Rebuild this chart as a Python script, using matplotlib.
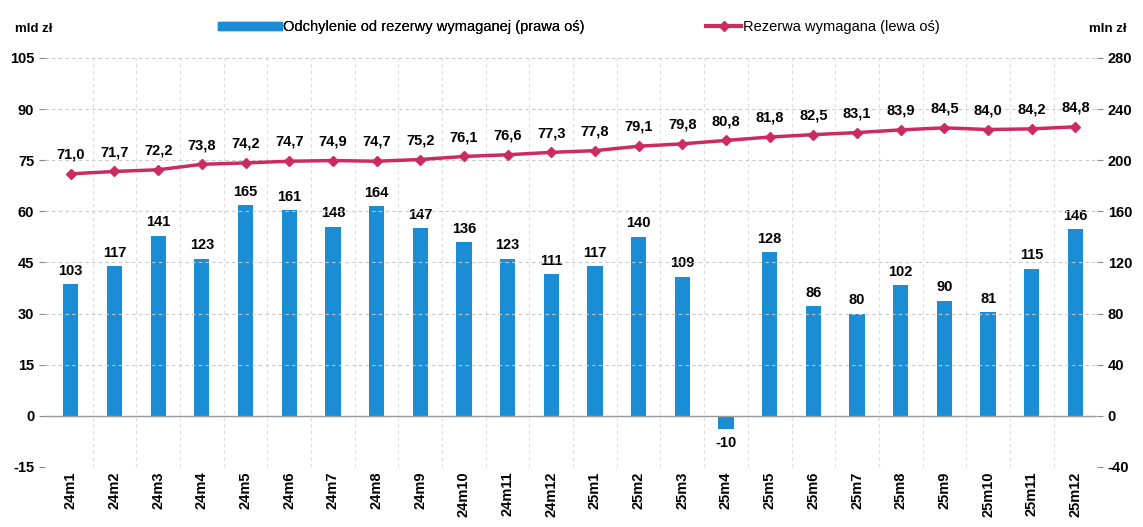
import numpy as np
import matplotlib.pyplot as plt
import matplotlib.lines as mlines
import matplotlib.patches as mpatches

plt.rcParams['font.family'] = ['Liberation Sans', 'DejaVu Sans']
plt.rcParams['axes.unicode_minus'] = False

# dane
months = ["24m1", "24m2", "24m3", "24m4", "24m5", "24m6", "24m7", "24m8", "24m9", "24m10", "24m11", "24m12",
          "25m1", "25m2", "25m3", "25m4", "25m5", "25m6", "25m7", "25m8", "25m9", "25m10", "25m11", "25m12"]
rezerwa = [71.0, 71.7, 72.2, 73.8, 74.2, 74.7, 74.9, 74.7, 75.2, 76.1, 76.6, 77.3,
           77.8, 79.1, 79.8, 80.8, 81.8, 82.5, 83.1, 83.9, 84.5, 84.0, 84.2, 84.8]
odchylenie = [103, 117, 141, 123, 165, 161, 148, 164, 147, 136, 123, 111,
              117, 140, 109, -10, 128, 86, 80, 102, 90, 81, 115, 146]

blue = "#1b8dd4"
red = "#cc2b62"

fig = plt.figure(figsize=(11.43, 5.27), dpi=100)
ax = fig.add_axes([0.039, 0.114, 0.921, 0.776])
ax2 = ax.twinx()

x = np.arange(len(months))

# słupki na prawej osi
ax2.bar(x, odchylenie, width=0.35, color=blue, zorder=2)
for xi, v in zip(x, odchylenie):
    if v >= 0:
        ax2.text(xi, v + 5, str(v), ha="center", va="bottom", fontsize=10.5, fontweight="bold")
    else:
        ax2.text(xi, v - 6, str(v), ha="center", va="top", fontsize=10.5, fontweight="bold")
ax2.set_ylim(-40, 280)
ax2.set_yticks(np.arange(-40, 281, 40))

# linia na lewej osi, nad słupkami
ax.set_zorder(ax2.get_zorder() + 1)
ax.patch.set_visible(False)
ax.plot(x, rezerwa, color=red, lw=2.5, marker="D", markersize=5, zorder=3)
for xi, v in zip(x, rezerwa):
    ax.text(xi, v + 3.6, f"{v:.1f}".replace(".", ","), ha="center", va="bottom",
            fontsize=10.5, fontweight="bold")
ax.set_ylim(-15, 105)
ax.set_yticks(np.arange(-15, 106, 15))
ax.set_xlim(-0.6, 23.5)
ax.set_xticks(x)
ax.set_xticklabels(months, rotation=90, fontsize=10.5, fontweight="bold")

# siatka
ax.set_xticks(x + 0.5, minor=True)
ax.grid(True, which="major", axis="y", ls=(0, (3, 3)), color="#c8c8c8", lw=0.8)
ax.grid(True, which="minor", axis="x", ls=(0, (3, 3)), color="#dcdcdc", lw=0.8)
ax.tick_params(axis="x", which="both", length=0)
ax.axhline(0, color="#9a9a9a", lw=1)

for a in (ax, ax2):
    for s in a.spines.values():
        s.set_visible(False)
    for lab in a.get_yticklabels():
        lab.set_fontweight("bold")
        lab.set_fontsize(10.5)
ax.tick_params(axis="y", length=4, color="#888888")
ax2.tick_params(axis="y", length=4, color="#888888")

fig.text(0.013, 0.945, "mld zł", fontsize=9.5, fontweight="bold", va="center")
fig.text(0.953, 0.945, "mln zł", fontsize=9.5, fontweight="bold", va="center")

# legenda
blue_patch = mpatches.Patch(color=blue, label="Odchylenie od rezerwy wymaganej (prawa oś)")
red_line = mlines.Line2D([], [], color=red, lw=3, marker="D", markersize=5,
                         label="Rezerwa wymagana (lewa oś)")
leg1 = fig.legend(handles=[blue_patch], loc="center left", bbox_to_anchor=(0.179, 0.948),
                  frameon=False, fontsize=10.5, handlelength=4.4, handletextpad=0.1,
                  handleheight=0.5)
fig.add_artist(leg1)
fig.legend(handles=[red_line], loc="center left", bbox_to_anchor=(0.6065, 0.948),
           frameon=False, fontsize=10.5, handlelength=2.4, handletextpad=0.1)

fig.savefig("out.png", dpi=100)
